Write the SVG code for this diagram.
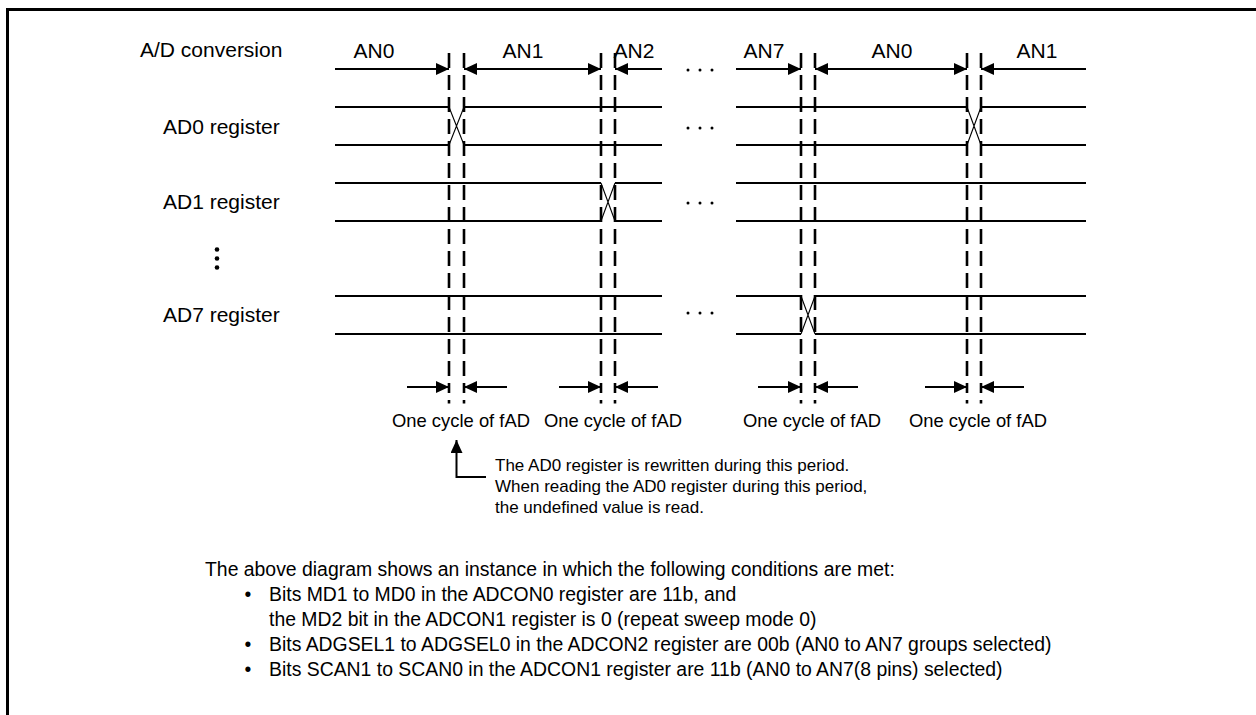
<svg xmlns="http://www.w3.org/2000/svg" width="1256" height="715" viewBox="0 0 1256 715">
<style>
text{font-family:"Liberation Sans",Arial,sans-serif;fill:#000}
.lbl{font-size:21px}
.cyc{font-size:18.4px}
.ann{font-size:17px}
.note{font-size:19.4px}
.ln{stroke:#000;stroke-width:2;fill:none}
.x{stroke:#000;stroke-width:1.1;fill:none}
.dash{stroke:#000;stroke-width:2.6;stroke-dasharray:15 7;fill:none}
.ar{stroke:#000;stroke-width:2;fill:none;marker-end:url(#ah)}
.ar2{stroke:#000;stroke-width:2;fill:none;marker-start:url(#ah);marker-end:url(#ah)}
.ars{stroke:#000;stroke-width:2;fill:none;marker-start:url(#ah)}
</style>
<defs>
<marker id="ah" viewBox="0 0 13 12" refX="13" refY="6" markerWidth="13" markerHeight="12" markerUnits="userSpaceOnUse" orient="auto-start-reverse">
<path d="M0,0 L13,6 L0,12 z" fill="#000"/>
</marker>
</defs>
<rect width="1256" height="715" fill="#fff"/>
<path d="M7.5,715 V9.5 H1256" stroke="#000" stroke-width="3" fill="none"/>

<g id="row-labels">
<text class="lbl" x="140" y="57">A/D conversion</text>
<text class="lbl" x="163" y="133.5">AD0 register</text>
<text class="lbl" x="163" y="209">AD1 register</text>
<text class="lbl" x="163" y="322">AD7 register</text>
<circle cx="217" cy="249.5" r="2.3"/>
<circle cx="217" cy="258.5" r="2.3"/>
<circle cx="217" cy="267.5" r="2.3"/>
</g>

<g id="ad-conversion">
<text class="lbl" x="374" y="58" text-anchor="middle">AN0</text>
<text class="lbl" x="523" y="58" text-anchor="middle">AN1</text>
<text class="lbl" x="634" y="58" text-anchor="middle">AN2</text>
<text class="lbl" x="764" y="58" text-anchor="middle">AN7</text>
<text class="lbl" x="892" y="58" text-anchor="middle">AN0</text>
<text class="lbl" x="1037" y="58" text-anchor="middle">AN1</text>
</g>

<g id="connectors">
<!-- dashed boundary lines -->
<path class="dash" d="M449,53 V393 M464,53 V393 M601,53 V393 M615,53 V393 M801,53 V393 M815,53 V393 M967,53 V393 M981,53 V393"/>
<path stroke="#000" stroke-width="2.6" d="M449,400 V403.5 M464,400 V403.5 M601,400 V403.5 M615,400 V403.5 M801,400 V403.5 M815,400 V403.5 M967,400 V403.5 M981,400 V403.5"/>
<!-- A/D conversion arrows -->
<path class="ar" d="M335,69 H449"/>
<path class="ar2" d="M464,69 H601"/>
<path class="ars" d="M615,69 H662"/>
<path class="ar" d="M736,69 H801"/>
<path class="ar2" d="M815,69 H967"/>
<path class="ars" d="M981,69 H1086"/>
<!-- one cycle arrows -->
<path class="ar" d="M407,387 H449"/>
<path class="ar" d="M507,387 H464"/>
<path class="ar" d="M559,387 H601"/>
<path class="ar" d="M658,387 H615"/>
<path class="ar" d="M758,387 H801"/>
<path class="ar" d="M858,387 H815"/>
<path class="ar" d="M925,387 H967"/>
<path class="ar" d="M1024,387 H981"/>
<!-- leader -->
<path class="ar" d="M486,477 H456.5 V440"/>
</g>

<g id="ad0-register">
<path class="ln" d="M335,107 H449 M464,107 H662 M736,107 H967 M981,107 H1086 M335,145 H449 M464,145 H662 M736,145 H967 M981,145 H1086"/>
<path class="x" d="M449,107 L464,145 M449,145 L464,107 M967,107 L981,145 M967,145 L981,107"/>
</g>

<g id="ad1-register">
<path class="ln" d="M335,183 H601 M615,183 H662 M736,183 H1086 M335,221 H601 M615,221 H662 M736,221 H1086"/>
<path class="x" d="M601,183 L615,221 M601,221 L615,183"/>
</g>

<g id="ad7-register">
<path class="ln" d="M335,296 H662 M736,296 H801 M815,296 H1086 M335,334 H662 M736,334 H801 M815,334 H1086"/>
<path class="x" d="M801,296 L815,334 M801,334 L815,296"/>
</g>

<g id="ellipses">
<circle cx="688" cy="70" r="1.5"/><circle cx="700" cy="70" r="1.5"/><circle cx="712" cy="70" r="1.5"/>
<circle cx="688" cy="128" r="1.5"/><circle cx="700" cy="128" r="1.5"/><circle cx="712" cy="128" r="1.5"/>
<circle cx="688" cy="203" r="1.5"/><circle cx="700" cy="203" r="1.5"/><circle cx="712" cy="203" r="1.5"/>
<circle cx="688" cy="313" r="1.5"/><circle cx="700" cy="313" r="1.5"/><circle cx="712" cy="313" r="1.5"/>
</g>

<g id="cycle-labels">
<text class="cyc" x="392" y="427">One cycle of fAD</text>
<text class="cyc" x="544" y="427">One cycle of fAD</text>
<text class="cyc" x="743" y="427">One cycle of fAD</text>
<text class="cyc" x="909" y="427">One cycle of fAD</text>
</g>

<g id="annotation">
<text class="ann" x="495" y="471">The AD0 register is rewritten during this period.</text>
<text class="ann" x="495" y="492">When reading the AD0 register during this period,</text>
<text class="ann" x="495" y="513">the undefined value is read.</text>
</g>

<g id="notes">
<text class="note" x="205" y="576">The above diagram shows an instance in which the following conditions are met:</text>
<text class="note" x="248" y="601" text-anchor="middle">•</text>
<text class="note" x="269" y="601">Bits MD1 to MD0 in the ADCON0 register are 11b, and</text>
<text class="note" x="269" y="626">the MD2 bit in the ADCON1 register is 0 (repeat sweep mode 0)</text>
<text class="note" x="248" y="651" text-anchor="middle">•</text>
<text class="note" x="269" y="651">Bits ADGSEL1 to ADGSEL0 in the ADCON2 register are 00b (AN0 to AN7 groups selected)</text>
<text class="note" x="248" y="676" text-anchor="middle">•</text>
<text class="note" x="269" y="676">Bits SCAN1 to SCAN0 in the ADCON1 register are 11b (AN0 to AN7(8 pins) selected)</text>
</g>
</svg>
